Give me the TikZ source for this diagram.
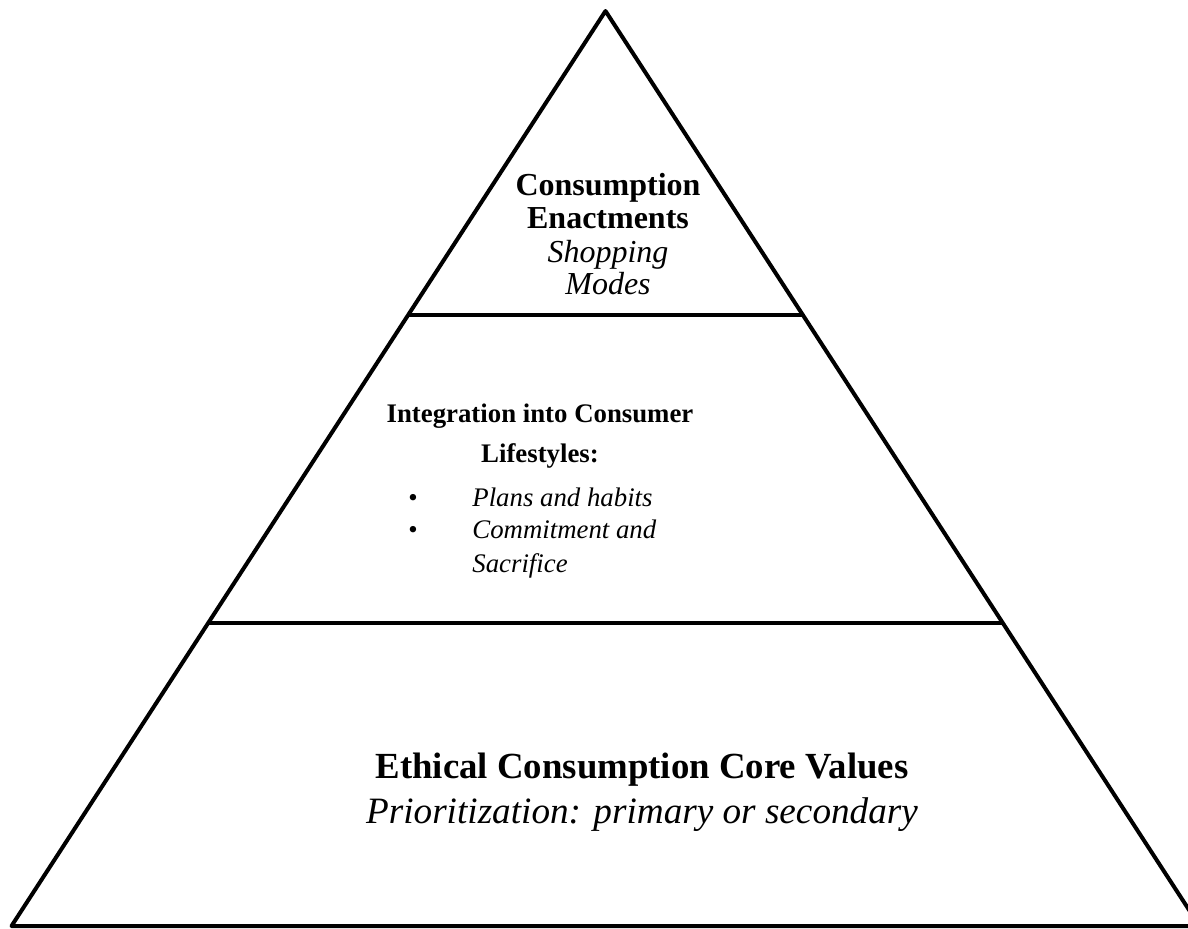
\documentclass[tikz,border=0pt]{standalone}
\usepackage{fontspec}
\setmainfont{Liberation Serif}
\usetikzlibrary{calc}
\tikzset{
  edge/.style={line width=2pt, line join=round},
  txt/.style={inner sep=0pt, anchor=base},
  topb/.style={txt, font=\fontsize{16}{19}\selectfont\bfseries},
  topi/.style={txt, font=\fontsize{16}{19}\selectfont\itshape},
  midb/.style={txt, font=\fontsize{13.4}{19}\selectfont\bfseries},
  midi/.style={txt, anchor=base west, font=\fontsize{13.4}{19}\selectfont\itshape},
  bul/.style={txt, font=\fontsize{13.4}{19}\selectfont},
  botb/.style={txt, font=\fontsize{18.4}{22}\selectfont\bfseries},
  boti/.style={txt, font=\fontsize{18.6}{22}\selectfont\itshape},
}
\begin{document}
\begin{tikzpicture}[x=0.5pt, y=-0.5pt]
\useasboundingbox (0,0) rectangle (1188,928);
\coordinate (A) at (605.5,11);
\coordinate (BL) at (11.5,926);
\coordinate (BR) at (1199.5,926);
\coordinate (L1) at ($(A)!0.3322!(BL)$);
\coordinate (R1) at ($(A)!0.3322!(BR)$);
\coordinate (L2) at ($(A)!0.6689!(BL)$);
\coordinate (R2) at ($(A)!0.6689!(BR)$);
\draw[edge] (A) -- (BL) -- (BR) -- cycle;
\draw[edge] (L1) -- (R1);
\draw[edge] (L2) -- (R2);
% top tier
\node[topb] (t1) at (608,195) {Consumption};
\node[topb] (t2) at (608,228) {Enactments};
\node[topi] (t3) at (608,262) {Shopping};
\node[topi] (t4) at (608,294) {Modes};
% middle tier
\node[midb] (m1) at (540,422) {Integration into Consumer};
\node[midb] (m2) at (540,462) {Lifestyles:};
\node[bul] (b1) at (413,506) {\textbullet};
\node[bul] (b2) at (413,538) {\textbullet};
\node[midi] (m3) at (472,506) {Plans and habits};
\node[midi] (m4) at (472,538) {Commitment and};
\node[midi] (m5) at (472,572) {Sacrifice};
% bottom tier
\node[botb] (c1) at (642,778) {Ethical Consumption Core Values};
\node[boti] (c2) at (642,823) {Prioritization: primary or secondary};
\end{tikzpicture}
\end{document}
